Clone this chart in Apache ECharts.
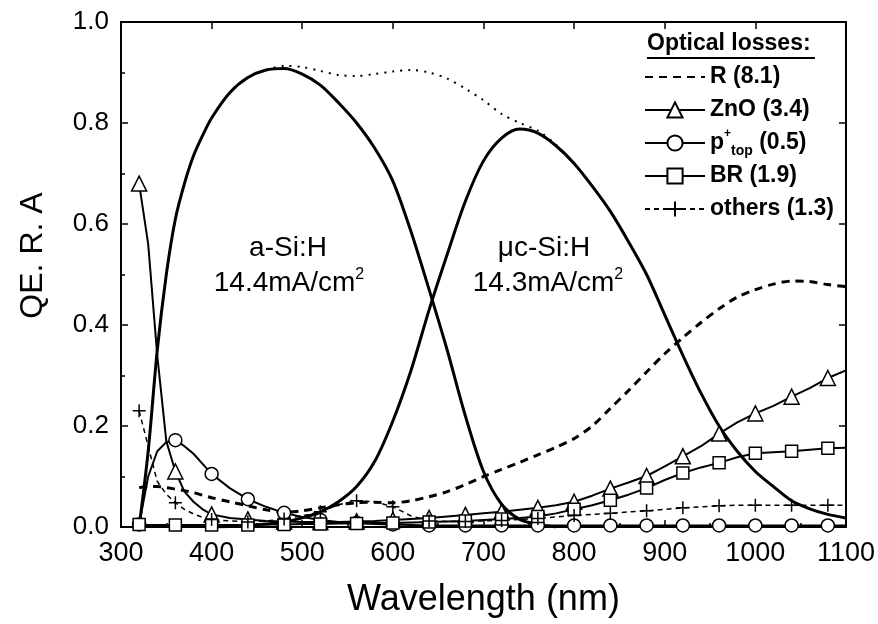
<!DOCTYPE html>
<html><head><meta charset="utf-8">
<script src="https://cdn.jsdelivr.net/npm/echarts@6/dist/echarts.min.js"></script>
<style>html,body{margin:0;padding:0;background:#fff}#c{width:878px;height:624px}</style>
</head><body><div id="c"></div>
<script>
// ---- data ----
const aSiWl = [320,330,340,350,360,370,380,390,400,420,440,460,480,500,520,540,560,580,600,620,640,660,680,700,720,740,760,780];
const aSiQE = [0.0,0.15,0.35,0.5,0.61,0.68,0.735,0.775,0.81,0.86,0.89,0.905,0.908,0.897,0.875,0.84,0.80,0.75,0.685,0.585,0.47,0.35,0.22,0.11,0.045,0.015,0.005,0.0];
const ucSiWl = [400,420,440,460,480,500,520,540,560,580,600,620,640,660,680,700,720,740,760,780,800,820,840,860,880,900,920,940,960,980,1000,1020,1040,1060,1080,1100];
const ucSiQE = [0.0,0.001,0.003,0.006,0.01,0.018,0.03,0.05,0.08,0.13,0.21,0.31,0.43,0.54,0.645,0.725,0.77,0.788,0.78,0.755,0.72,0.675,0.625,0.565,0.5,0.42,0.34,0.265,0.2,0.15,0.11,0.08,0.052,0.036,0.025,0.018];
const totalWl = [460,480,500,520,540,560,580,600,620,640,660,680,700,720,740,760,780,800];
const totalQE = [0.905,0.913,0.911,0.903,0.895,0.893,0.897,0.902,0.905,0.9,0.888,0.868,0.845,0.818,0.8,0.785,0.757,0.72];
const lossWl = [320,330,340,350,360,370,380,390,400,420,440,460,480,500,520,540,560,580,600,620,640,660,680,700,720,740,760,780,800,820,840,860,880,900,920,940,960,980,1000,1020,1040,1060,1080,1100];
const lossR = [0.078,0.08,0.08,0.078,0.075,0.072,0.068,0.063,0.058,0.05,0.042,0.034,0.029,0.032,0.038,0.044,0.048,0.049,0.048,0.052,0.06,0.07,0.084,0.1,0.114,0.128,0.143,0.158,0.175,0.2,0.235,0.27,0.307,0.343,0.375,0.405,0.432,0.455,0.47,0.481,0.487,0.486,0.48,0.476];
const lossZnO = [0.68,0.56,0.34,0.17,0.11,0.07,0.05,0.035,0.025,0.018,0.015,0.012,0.011,0.01,0.01,0.01,0.011,0.012,0.014,0.016,0.018,0.021,0.024,0.027,0.03,0.034,0.038,0.043,0.05,0.062,0.076,0.088,0.101,0.12,0.14,0.16,0.185,0.207,0.225,0.24,0.258,0.275,0.295,0.31];
const lossPtop = [0.005,0.1,0.15,0.168,0.172,0.16,0.145,0.125,0.105,0.077,0.055,0.04,0.028,0.02,0.014,0.01,0.008,0.006,0.005,0.004,0.003,0.003,0.003,0.003,0.003,0.003,0.003,0.003,0.003,0.003,0.003,0.003,0.003,0.003,0.003,0.003,0.003,0.003,0.003,0.003,0.003,0.003,0.003,0.003];
const lossBR = [0.005,0.004,0.004,0.004,0.004,0.004,0.004,0.004,0.004,0.004,0.004,0.005,0.005,0.006,0.006,0.007,0.007,0.008,0.008,0.009,0.01,0.011,0.012,0.014,0.016,0.018,0.021,0.027,0.035,0.043,0.053,0.064,0.077,0.093,0.107,0.118,0.127,0.138,0.146,0.148,0.15,0.153,0.156,0.157];
const lossOthers = [0.23,0.16,0.09,0.065,0.048,0.035,0.026,0.019,0.015,0.012,0.01,0.012,0.016,0.022,0.03,0.044,0.052,0.05,0.04,0.022,0.012,0.011,0.011,0.012,0.013,0.015,0.017,0.02,0.023,0.025,0.027,0.03,0.032,0.035,0.038,0.04,0.042,0.043,0.043,0.043,0.043,0.043,0.043,0.043];
const seriesNames = ['R (8.1)','ZnO (3.4)','p+top (0.5)','BR (1.9)','others (1.3)'];
const xTicks = {min:300, max:1100, step:100};
const yTicks = {min:0, max:1, step:0.2};

// ---- build ----
const FONT = '"Liberation Sans", Arial, sans-serif';
function pairs(wl, vals){ return wl.map((x,i)=>[x, vals[i]]); }
function marked(wl, vals){
  return wl.map((x,i)=> ((x-320)%40===0) ? [x, vals[i]] : {value:[x, vals[i]], symbol:'none'});
}
const hollow = {color:'#fff', borderColor:'#000', borderWidth:1.5};
const plus = 'path://M0,6L12,6M6,0L6,12';

const chart = echarts.init(document.getElementById('c'), null, {renderer:'canvas'});
const axisCommon = {
  type:'value', splitLine:{show:false},
  axisLine:{show:true, onZero:false, lineStyle:{color:'#000', width:2}},
  axisTick:{show:true, inside:true, length:7, lineStyle:{color:'#000', width:1.5}}
};
chart.setOption({
  animation:false,
  backgroundColor:'#fff',
  grid:{left:121, right:30, top:22, bottom:97},
  xAxis:[
    Object.assign({}, axisCommon, {
      min:xTicks.min, max:xTicks.max, interval:xTicks.step, position:'bottom',
      minorTick:{show:true, splitNumber:2, length:4, lineStyle:{color:'#000', width:1.5}},
      axisLabel:{color:'#000', fontSize:27, fontFamily:FONT, margin:13, formatter:v=>String(v)},
      name:'Wavelength (nm)', nameLocation:'middle', nameGap:55,
      nameTextStyle:{color:'#000', fontSize:36, fontFamily:FONT}
    }),
    Object.assign({}, axisCommon, {
      min:xTicks.min, max:xTicks.max, interval:xTicks.step, position:'top',
      axisLabel:{show:false}
    })
  ],
  yAxis:[
    Object.assign({}, axisCommon, {
      min:yTicks.min, max:yTicks.max, interval:yTicks.step, position:'left',
      minorTick:{show:true, splitNumber:2, length:4, lineStyle:{color:'#000', width:1.5}},
      axisLabel:{color:'#000', fontSize:26, fontFamily:FONT, margin:12, formatter:v=>v.toFixed(1)},
      name:'QE. R. A', nameLocation:'middle', nameGap:72, nameRotate:90,
      nameTextStyle:{color:'#000', fontSize:32, fontFamily:FONT, padding:[0,0,0,38]}
    }),
    Object.assign({}, axisCommon, {
      min:yTicks.min, max:yTicks.max, interval:yTicks.step, position:'right',
      axisLabel:{show:false}
    })
  ],
  legend:{
    data:[
      {name:seriesNames[0], itemStyle:{color:'rgba(0,0,0,0)', borderColor:'rgba(0,0,0,0)', borderWidth:0}},
      seriesNames[1], seriesNames[2], seriesNames[3], seriesNames[4]
    ],
    orient:'vertical', left:639, top:57,
    itemWidth:60, itemHeight:19, itemGap:3,
    selectedMode:false,
    textStyle:{color:'#000', fontSize:23, fontWeight:'bold', fontFamily:FONT, lineHeight:30,
      rich:{
        sup:{fontSize:12, fontWeight:'bold', fontFamily:FONT, verticalAlign:'top', lineHeight:30},
        sub:{fontSize:14, fontWeight:'bold', fontFamily:FONT, verticalAlign:'bottom', lineHeight:30}
      }},
    formatter: n => n==='p+top (0.5)' ? 'p{sup|+}{sub|top} (0.5)' : n
  },
  graphic:[
    {type:'text', left:647, top:32, style:{text:'Optical losses:', fill:'#000', font:'bold 23px '+FONT}},
    {type:'line', shape:{x1:647, y1:58, x2:815, y2:58}, style:{stroke:'#000', lineWidth:2}},
    {type:'text', x:288, y:248, style:{text:'a-Si:H', fill:'#000', font:'28px '+FONT, align:'center', verticalAlign:'middle'}},
    {type:'text', x:289, y:283, style:{text:'14.4mA/cm{sup|2}', fill:'#000', font:'28px '+FONT, align:'center', verticalAlign:'middle', lineHeight:32,
      rich:{sup:{fontSize:16, fontFamily:FONT, verticalAlign:'top', lineHeight:32}}}},
    {type:'text', x:544, y:248, style:{text:'μc-Si:H', fill:'#000', font:'28px '+FONT, align:'center', verticalAlign:'middle'}},
    {type:'text', x:548, y:283, style:{text:'14.3mA/cm{sup|2}', fill:'#000', font:'28px '+FONT, align:'center', verticalAlign:'middle', lineHeight:32,
      rich:{sup:{fontSize:16, fontFamily:FONT, verticalAlign:'top', lineHeight:32}}}}
  ],
  series:[
    {name:'a-Si:H QE', type:'line', data:pairs(aSiWl, aSiQE), smooth:0.3, symbol:'none',
      lineStyle:{color:'#000', width:3}, z:3},
    {name:'uc-Si:H QE', type:'line', data:pairs(ucSiWl, ucSiQE), smooth:0.3, symbol:'none',
      lineStyle:{color:'#000', width:3}, z:3},
    {name:'total QE', type:'line', data:pairs(totalWl, totalQE), smooth:0.3, symbol:'none',
      lineStyle:{color:'#000', width:2, type:[2,6]}, z:2},
    {name:seriesNames[0], type:'line', data:pairs(lossWl, lossR), smooth:0.3, symbol:'none',
      lineStyle:{color:'#000', width:3, type:[8,6]}, itemStyle:{color:'#000'}},
    {name:seriesNames[1], type:'line', data:marked(lossWl, lossZnO), symbol:'triangle', symbolSize:15,
      showAllSymbol:true, lineStyle:{color:'#000', width:2}, itemStyle:hollow, z:4},
    {name:seriesNames[2], type:'line', data:marked(lossWl, lossPtop), symbol:'circle', symbolSize:13,
      showAllSymbol:true, lineStyle:{color:'#000', width:2}, itemStyle:hollow, z:4},
    {name:seriesNames[3], type:'line', data:marked(lossWl, lossBR), symbol:'rect', symbolSize:12,
      showAllSymbol:true, lineStyle:{color:'#000', width:2}, itemStyle:hollow, z:4},
    {name:seriesNames[4], type:'line', data:marked(lossWl, lossOthers), symbol:plus, symbolSize:13,
      showAllSymbol:true, lineStyle:{color:'#000', width:1.5, type:[5,4]},
      itemStyle:{color:'#000', borderColor:'#000', borderWidth:1.5}, z:4}
  ]
});
</script></body></html>
